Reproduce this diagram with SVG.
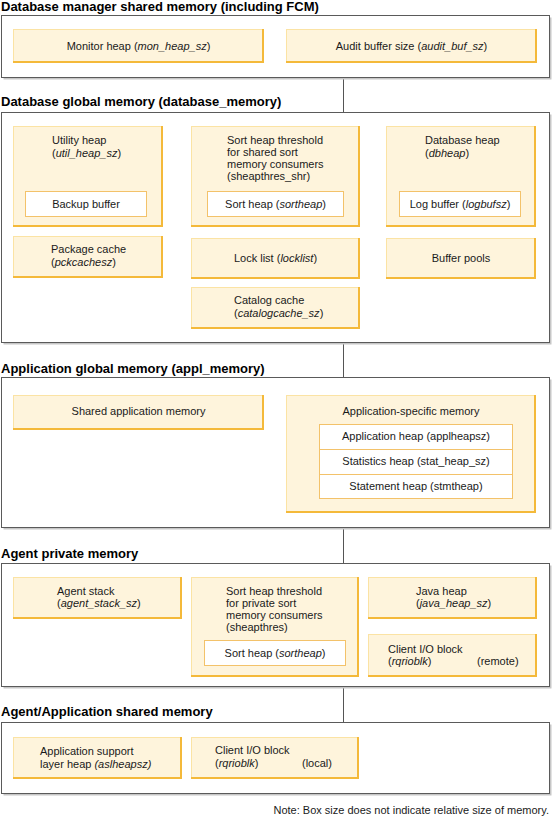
<svg xmlns="http://www.w3.org/2000/svg" width="554" height="817" viewBox="0 0 554 817">
<style>
text{font-family:"Liberation Sans",Arial,Helvetica,sans-serif;font-size:11px;fill:#1a1a1a}
.t{font-weight:bold;font-size:13px;fill:#000}
.c{text-anchor:middle}
.i{font-style:italic}
.sh{fill:#c6c6c6}
.ob{fill:#fff;stroke:#5a5a5a;stroke-width:1}
.yb{fill:#fef4dc;stroke:#fbe3a4;stroke-width:1}
.ye{fill:none;stroke:#f4b93a;stroke-width:2}
.wb{fill:#fff;stroke:#f3c26a;stroke-width:1}
.cn{stroke:#555;stroke-width:1;fill:none}
</style>
<rect width="554" height="817" fill="#fff"/>
<g id="connectors">
<line class="cn" x1="343.5" y1="77.5" x2="343.5" y2="112.5"/>
<line class="cn" x1="343.5" y1="342.5" x2="343.5" y2="377.5"/>
<line class="cn" x1="343.5" y1="527.5" x2="343.5" y2="563.5"/>
<line class="cn" x1="343.5" y1="686.5" x2="343.5" y2="722.5"/>
</g>
<g id="sec1">
<text class="t" x="1" y="11">Database manager shared memory (including FCM)</text>
<rect class="sh" x="3.5" y="17.5" width="548" height="62"/>
<rect class="ob" x="1.5" y="15.5" width="548" height="62"/>
</g>
<g id="monitor">
<rect class="yb" x="13.5" y="29.5" width="250" height="33"/><path class="ye" d="M263,29V62H13"/>
<text class="c" x="138.5" y="50">Monitor heap (<tspan class="i">mon_heap_sz</tspan>)</text>
</g>
<g id="audit">
<rect class="yb" x="286.5" y="29.5" width="250" height="33"/><path class="ye" d="M536,29V62H286"/>
<text class="c" x="411.5" y="50">Audit buffer size (<tspan class="i">audit_buf_sz</tspan>)</text>
</g>
<g id="sec2">
<text class="t" x="1" y="106">Database global memory (database_memory)</text>
<rect class="sh" x="3.5" y="114.5" width="548" height="230"/>
<rect class="ob" x="1.5" y="112.5" width="548" height="230"/>
</g>
<g id="utility">
<rect class="yb" x="13.5" y="126.5" width="149" height="100"/><path class="ye" d="M162,126V226H13"/>
<text x="52" y="143.5">Utility heap</text>
<text x="52" y="156.5">(<tspan class="i">util_heap_sz</tspan>)</text>
</g>
<g id="backup">
<rect class="wb" x="25.5" y="191.5" width="121" height="25"/>
<text class="c" x="86" y="207.5">Backup buffer</text>
</g>
<g id="sortshr">
<rect class="yb" x="191.5" y="126.5" width="168" height="100"/><path class="ye" d="M359,126V226H191"/>
<text x="227" y="143.5">Sort heap threshold</text>
<text x="227" y="155.7">for shared sort</text>
<text x="227" y="167.9">memory consumers</text>
<text x="227" y="180.1">(sheapthres_shr)</text>
</g>
<g id="sortheap1">
<rect class="wb" x="207.5" y="191.5" width="136" height="25"/>
<text class="c" x="275.5" y="207.5">Sort heap (<tspan class="i">sortheap</tspan>)</text>
</g>
<g id="dbheap">
<rect class="yb" x="386.5" y="126.5" width="149" height="100"/><path class="ye" d="M535,126V226H386"/>
<text x="425" y="143.5">Database heap</text>
<text x="425" y="156.5">(<tspan class="i">dbheap</tspan>)</text>
</g>
<g id="logbuf">
<rect class="wb" x="399.5" y="191.5" width="121" height="25"/>
<text class="c" x="460" y="207.5">Log buffer (<tspan class="i">logbufsz</tspan>)</text>
</g>
<g id="package">
<rect class="yb" x="13.5" y="236.5" width="149" height="41"/><path class="ye" d="M162,236V277H13"/>
<text x="51" y="252.5">Package cache</text>
<text x="51" y="265.5">(<tspan class="i">pckcachesz</tspan>)</text>
</g>
<g id="locklist">
<rect class="yb" x="191.5" y="238.5" width="168" height="40"/><path class="ye" d="M359,238V278H191"/>
<text class="c" x="275.5" y="261.5">Lock list (<tspan class="i">locklist</tspan>)</text>
</g>
<g id="bufferpools">
<rect class="yb" x="386.5" y="238.5" width="149" height="40"/><path class="ye" d="M535,238V278H386"/>
<text class="c" x="461" y="261.5">Buffer pools</text>
</g>
<g id="catalog">
<rect class="yb" x="191.5" y="287.5" width="168" height="41"/><path class="ye" d="M359,287V328H191"/>
<text x="234" y="303.5">Catalog cache</text>
<text x="234" y="316.5">(<tspan class="i">catalogcache_sz</tspan>)</text>
</g>
<g id="sec3">
<text class="t" x="1" y="372.5">Application global memory (appl_memory)</text>
<rect class="sh" x="3.5" y="379.5" width="548" height="150"/>
<rect class="ob" x="1.5" y="377.5" width="548" height="150"/>
</g>
<g id="sharedapp">
<rect class="yb" x="13.5" y="395.5" width="250" height="34"/><path class="ye" d="M263,395V429H13"/>
<text class="c" x="138.5" y="415">Shared application memory</text>
</g>
<g id="appspecific">
<rect class="yb" x="286.5" y="395.5" width="249" height="117"/><path class="ye" d="M535,395V512H286"/>
<text class="c" x="411" y="415">Application-specific memory</text>
</g>
<g id="apptable">
<rect class="wb" x="319.5" y="424.5" width="193" height="74"/>
<line class="wb" x1="319.5" y1="449.5" x2="512.5" y2="449.5"/>
<line class="wb" x1="319.5" y1="474.5" x2="512.5" y2="474.5"/>
<text class="c" x="416" y="439.5">Application heap (applheapsz)</text>
<text class="c" x="416" y="464.5">Statistics heap (stat_heap_sz)</text>
<text class="c" x="416" y="489.5">Statement heap (stmtheap)</text>
</g>
<g id="sec4">
<text class="t" x="1" y="558">Agent private memory</text>
<rect class="sh" x="3.5" y="565.5" width="548" height="123"/>
<rect class="ob" x="1.5" y="563.5" width="548" height="123"/>
</g>
<g id="agentstack">
<rect class="yb" x="13.5" y="577.5" width="168" height="41"/><path class="ye" d="M181,577V618H13"/>
<text x="57" y="594.5">Agent stack</text>
<text x="57" y="606.5">(<tspan class="i">agent_stack_sz</tspan>)</text>
</g>
<g id="sortpriv">
<rect class="yb" x="191.5" y="577.5" width="167" height="99"/><path class="ye" d="M358,577V676H191"/>
<text x="226" y="594.5">Sort heap threshold</text>
<text x="226" y="606.7">for private sort</text>
<text x="226" y="618.9">memory consumers</text>
<text x="226" y="631.1">(sheapthres)</text>
</g>
<g id="sortheap2">
<rect class="wb" x="204.5" y="640.5" width="141" height="25"/>
<text class="c" x="275" y="656.5">Sort heap (<tspan class="i">sortheap</tspan>)</text>
</g>
<g id="javaheap">
<rect class="yb" x="368.5" y="577.5" width="168" height="41"/><path class="ye" d="M536,577V618H368"/>
<text x="416" y="594.5">Java heap</text>
<text x="416" y="607">(<tspan class="i">java_heap_sz</tspan>)</text>
</g>
<g id="clientremote">
<rect class="yb" x="368.5" y="634.5" width="168" height="42"/><path class="ye" d="M536,634V676H368"/>
<text x="388" y="652.5">Client I/O block</text>
<text x="388" y="665">(<tspan class="i">rqrioblk</tspan>)</text>
<text x="477" y="665">(remote)</text>
</g>
<g id="sec5">
<text class="t" x="1" y="715.5">Agent/Application shared memory</text>
<rect class="sh" x="3.5" y="724.5" width="548" height="71"/>
<rect class="ob" x="1.5" y="722.5" width="548" height="71"/>
</g>
<g id="aslheap">
<rect class="yb" x="13.5" y="737.5" width="168" height="41"/><path class="ye" d="M181,737V778H13"/>
<text x="40" y="755">Application support</text>
<text x="40" y="767.5">layer heap <tspan class="i">(aslheapsz)</tspan></text>
</g>
<g id="clientlocal">
<rect class="yb" x="191.5" y="737.5" width="167" height="41"/><path class="ye" d="M358,737V778H191"/>
<text x="215" y="754">Client I/O block</text>
<text x="215" y="766.5">(<tspan class="i">rqrioblk</tspan>)</text>
<text x="302" y="766.5">(local)</text>
</g>
<text x="549" y="814" style="text-anchor:end">Note: Box size does not indicate relative size of memory.</text>
</svg>
